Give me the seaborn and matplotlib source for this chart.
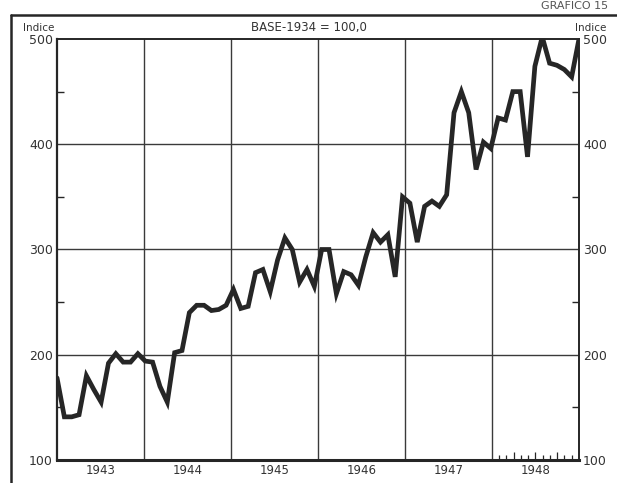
import numpy as np
import pandas as pd
import seaborn as sns
import matplotlib.pyplot as plt

# monthly index, Jan 1943 - Dec 1948 (base 1934 = 100)
v1943 = [178, 141, 141, 143, 180, 167, 155, 192, 201, 193, 193, 201]
v1944 = [194, 193, 170, 155, 202, 204, 240, 247, 247, 242, 243, 247]
v1945 = [262, 244, 246, 278, 281, 260, 290, 311, 300, 269, 281, 265]
v1946 = [300, 300, 258, 279, 276, 266, 293, 316, 307, 314, 274, 350]
v1947 = [344, 307, 341, 346, 341, 352, 430, 450, 430, 376, 402, 396]
v1948 = [425, 423, 450, 450, 388, 474, 502, 477, 475, 471, 464, 500]
years = [1943, 1944, 1945, 1946, 1947, 1948]
yticks = [100, 200, 300, 400, 500]
yminor = [150, 250, 350, 450]

values = v1943 + v1944 + v1945 + v1946 + v1947 + v1948
n = len(values)
# points spread evenly across the six years, first on the left edge, last on the right
t = years[0] + np.arange(n) * len(years) / (n - 1)
df = pd.DataFrame({"t": t, "indice": values})

sns.set_style("white")
plt.rcParams["font.family"] = ["DejaVu Sans"]
ink = "#262626"

fig = plt.figure(figsize=(6.17, 4.83), dpi=100)
ax = fig.add_axes([0.0924, 0.0476, 0.8460, 0.8717])

# grid
for y in yticks[1:-1]:
    ax.axhline(y, color="#3a3a3a", lw=1.0, zorder=1)
for yr in years[1:]:
    ax.axvline(yr, color="#3a3a3a", lw=1.0, zorder=1)

sns.lineplot(data=df, x="t", y="indice", color=ink, lw=3.4, ax=ax, zorder=3)
ax.lines[-1].set_solid_joinstyle("miter")

ax.set_xlim(years[0], years[-1] + 1)
ax.set_ylim(yticks[0], yticks[-1])
ax.set_xlabel("")
ax.set_ylabel("")

for side, w in [("left", 1.6), ("right", 1.4), ("top", 1.4), ("bottom", 2.2)]:
    ax.spines[side].set_visible(True)
    ax.spines[side].set_color(ink)
    ax.spines[side].set_linewidth(w)

ax.set_yticks(yticks)
ax.set_yticks(yminor, minor=True)
ax.tick_params(axis="y", which="major", length=0, pad=3, labelsize=9,
               labelcolor="#333333", labelright=True)
ax.tick_params(axis="y", which="minor", direction="in", length=5, width=1,
               color=ink, left=True, right=True)

ax.set_xticks(years[1:])
ax.set_xticklabels([])
ax.set_xticks([y + 0.5 for y in years], minor=True)
ax.set_xticklabels([str(y) for y in years], minor=True)
ax.tick_params(axis="x", which="both", length=0, pad=3, labelsize=8.5,
               labelcolor="#333333")

# small month marks along the bottom of 1948
for k in range(1, 12):
    ax.vlines(years[-1] + k / 12, yticks[0], yticks[0] + (8 if k % 3 == 0 else 5),
              color=ink, lw=0.9, zorder=2)

# headings
fig.text(0.500, 0.943, "BASE-1934 = 100,0", ha="center", va="center",
         fontsize=8.5, color="#333333")
fig.text(0.062, 0.943, "Indice", ha="center", va="center", fontsize=7.5,
         color="#333333")
fig.text(0.958, 0.943, "Indice", ha="center", va="center", fontsize=7.5,
         color="#333333")
fig.text(0.985, 0.998, "GRAFICO 15", ha="right", va="top", fontsize=8,
         color="#555555")

# outer page frame
fig.add_artist(plt.Line2D([0.018, 1.0], [0.969, 0.969], color=ink, lw=1.8,
                          transform=fig.transFigure))
fig.add_artist(plt.Line2D([0.018, 0.018], [0.0, 0.969], color=ink, lw=1.8,
                          transform=fig.transFigure))

fig.savefig("out.png", dpi=100, facecolor="white")
